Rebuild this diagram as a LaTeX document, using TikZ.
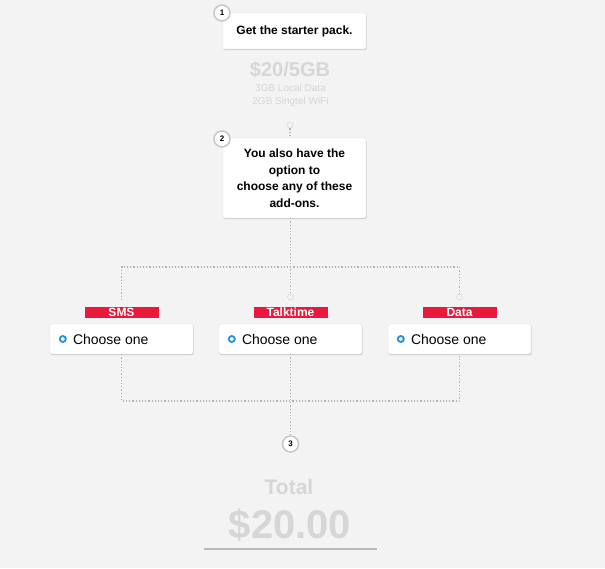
\documentclass[tikz,border=0pt]{standalone}
\usepackage{fontspec}
\setmainfont{Liberation Sans}
\usetikzlibrary{positioning,shadows}

\definecolor{bgpaper}{RGB}{243,243,243}
\definecolor{fadedtext}{RGB}{214,214,214}
\definecolor{dotgray}{RGB}{178,178,178}
\definecolor{addonred}{RGB}{232,25,60}
\definecolor{radioblue}{RGB}{38,150,214}

\tikzset{
  card/.style={draw=black!12, fill=white, rounded corners=1.5pt, inner sep=0pt,
    minimum width=143pt, align=center,
    drop shadow={shadow xshift=0.6pt, shadow yshift=-1.2pt, opacity=0.16, fill=black},
    font=\bfseries\fontsize{12}{16.5}\selectfont},
  pickbox/.style={card, minimum height=30pt, font=\fontsize{14}{14}\selectfont},
  stepno/.style={circle, draw=black!22, line width=1.5pt, fill=white, inner sep=0pt,
    minimum size=16pt, font=\bfseries\fontsize{8}{8}\selectfont},
  knob/.style={circle, draw=black!15, line width=0.6pt, fill=bgpaper, inner sep=0pt,
    minimum size=6pt},
  tag/.style={fill=addonred, text=white, inner sep=0pt, minimum width=74pt,
    minimum height=11pt, font=\bfseries\fontsize{12}{12}\selectfont},
  radio/.style={circle, draw=radioblue, line width=1.9pt, fill=white, inner sep=0pt,
    minimum size=6pt},
  faded/.style={text=fadedtext, inner sep=0pt, anchor=base},
  link/.style={draw=dotgray, line width=1.2pt, dash pattern=on 1.2pt off 2pt}
}

\begin{document}
\begin{tikzpicture}[x=1pt,y=-1pt]
  \fill[bgpaper] (0,0) rectangle (605,568);
  \useasboundingbox (0,0) rectangle (605,568);

  % step 1: starter pack
  \node[card, minimum height=36pt] (pack) at (294.5,31) {Get the starter pack.};
  \node[stepno] (one) at (222,13) {1};
  \node[faded, font=\bfseries\fontsize{20}{20}\selectfont] (price) at (290,76) {\$20/5GB};
  \node[faded, font=\fontsize{10}{10}\selectfont] (localdata) at (290.5,91) {3GB Local Data};
  \node[faded, font=\fontsize{10}{10}\selectfont] (wifi) at (290.5,104) {2GB Singtel WiFi};

  % step 2: add-ons
  \node[knob] (k1) at (290,125) {};
  \node[card, minimum height=80pt] (plan) at (294.5,178)
    {You also have the\\option to\\choose any of these\\add-ons.};
  \node[stepno] (two) at (222,139) {2};
  \draw[link] (k1) -- (plan.north -| k1);

  \node[pickbox] (smsbox) at (121.5,339) {};
  \node[pickbox] (talkbox) at (290.5,339) {};
  \node[pickbox] (databox) at (459.5,339) {};
  \node[tag, above=6pt of smsbox] (smstag) {SMS};
  \node[tag, above=6pt of talkbox] (talktag) {Talktime};
  \node[tag, above=6pt of databox] (datatag) {Data};

  \node[radio] (smsradio) at ([xshift=13pt]smsbox.west) {};
  \node[radio] (talkradio) at ([xshift=13pt]talkbox.west) {};
  \node[radio] (dataradio) at ([xshift=13pt]databox.west) {};
  \node[anchor=west, inner sep=0pt, font=\fontsize{14}{14}\selectfont] (smspick)
    at ([xshift=23pt]smsbox.west) {Choose one};
  \node[anchor=west, inner sep=0pt, font=\fontsize{14}{14}\selectfont] (talkpick)
    at ([xshift=23pt]talkbox.west) {Choose one};
  \node[anchor=west, inner sep=0pt, font=\fontsize{14}{14}\selectfont] (datapick)
    at ([xshift=23pt]databox.west) {Choose one};

  % branching
  \coordinate (fork) at (290.5,267);
  \node[knob] (k2) at (290.5,297) {};
  \node[knob] (k3) at (459.5,297) {};
  \coordinate (smsend) at (121.5,300);
  \draw[link] (plan.south -| fork) -- (fork) -- (k2);
  \draw[link] (smsend) -- (smsend |- fork) -- (k3 |- fork) -- (k3);

  % step 3: total
  \coordinate (merge) at (290.5,401);
  \node[stepno] (three) at (290.5,444) {3};
  \draw[link] (smsbox.south) -- (smsbox.south |- merge) -- (databox.south |- merge)
    -- (databox.south);
  \draw[link] (talkbox.south) -- (three);

  \node[faded, font=\bfseries\fontsize{21}{21}\selectfont] (total) at (289,494) {Total};
  \node[faded, font=\bfseries\fontsize{40}{40}\selectfont] (sum) at (290,538) {\$20.00};
  \coordinate (ruleleft) at (204,549);
  \coordinate (ruleright) at (377,549);
  \draw[black!28, line width=1.6pt] (ruleleft) -- (ruleright);
\end{tikzpicture}
\end{document}
